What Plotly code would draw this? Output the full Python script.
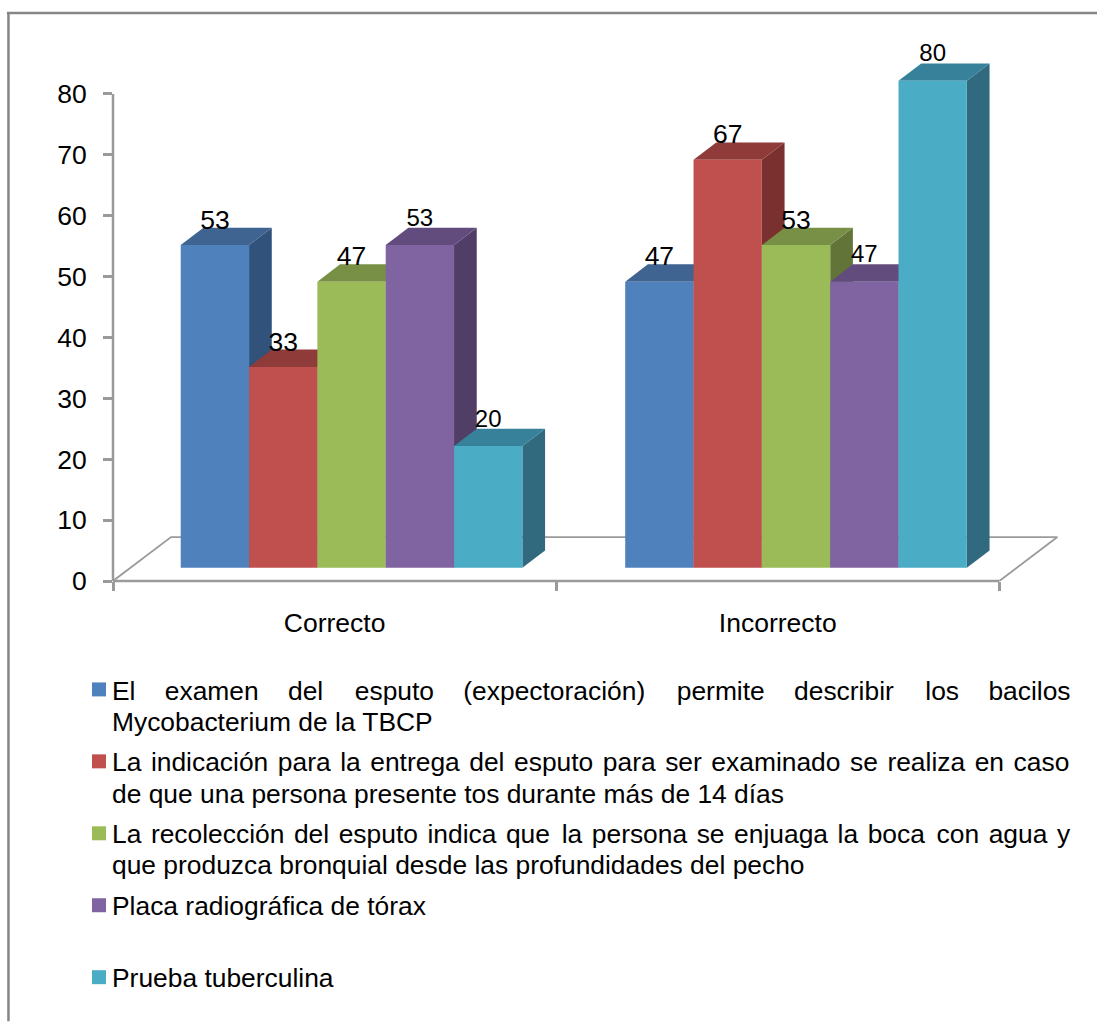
import plotly.graph_objects as go

# Survey results: share of answers per question, grouped by outcome
categories = ["Correcto", "Incorrecto"]
examen_esputo = [53, 47]
indicacion_esputo = [33, 67]
recoleccion_esputo = [47, 53]
placa_torax = [53, 47]
prueba_tuberculina = [20, 80]

series_names = [
    "El examen del esputo", "La indicación", "La recolección",
    "Placa radiográfica de tórax", "Prueba tuberculina",
]
series_values = [examen_esputo, indicacion_esputo, recoleccion_esputo, placa_torax, prueba_tuberculina]
front_colors = ["#4F81BD", "#C0504D", "#9BBB59", "#8064A2", "#4BACC6"]
top_colors = ["#3F6491", "#8F3B39", "#788F46", "#624C7E", "#37829A"]
side_colors = ["#31527A", "#7A302E", "#627438", "#503E66", "#316A7E"]
label_sizes = [26.5, 26.5, 26.5, 24, 24]
label_rises = [23, 23, 23, 25.5, 25.5]

NB = "\u00a0"
HAIR = "\u200a"


def spaced(text, gap, alt_gap=None, every=0):
    """Widen the word gaps of a line so it fills the legend column."""
    words = text.split(" ")
    out = words[0]
    for i, word in enumerate(words[1:], start=1):
        out += (alt_gap if every and i % every == 0 else gap) + word
    return out


legend_lines = [
    (692, "El" + NB * 4 + spaced("examen del esputo (expectoración) permite describir los bacilos",
                                 NB * 4, NB * 4 + HAIR, 2)),
    (723, "Mycobacterium de la TBCP"),
    (763, spaced("La indicación para la entrega del esputo para ser examinado se realiza en caso",
                 NB + HAIR)),
    (795, "de que una persona presente tos durante más de 14 días"),
    (835, spaced("La recolección del esputo indica que la persona se enjuaga la boca con agua y",
                 NB + HAIR, NB + HAIR * 2, 6)),
    (866, "que produzca bronquial desde las profundidades del pecho"),
    (907, "Placa radiográfica de tórax"),
    (979, "Prueba tuberculina"),
]
legend_swatch_rows = [690, 762, 834, 906, 978]

# Axis scale in page pixels. The ranges run past the last tick so the
# raised columns and the floor of the 3D box stay inside the plot area.
LEFT, BOTTOM = 113, 581.5
PX_X = 443
PX_Y = 487.5 / 80
X_MAX, Y_MAX = 2.2, 90
RIGHT = LEFT + X_MAX * PX_X
TOP = BOTTOM - Y_MAX * PX_Y

BAR_W = 68.3 / PX_X
DEPTH_X = 22.7 / PX_X
DEPTH_Y = 17.3 / PX_Y
BASE_Y = 13.2 / PX_Y
GROUP_LEFT = [(180.7 - LEFT) / PX_X, (625 - LEFT) / PX_X]
FLOOR_X = 58 / PX_X
FLOOR_Y = 44 / PX_Y
AXIS_GREY = "#9A9A9A"


def paper_x(px):
    return (px - LEFT) / (RIGHT - LEFT)


def paper_y(py):
    return (BOTTOM - py) / (BOTTOM - TOP)


def face(xs, ys, color, layer):
    """One filled side or top face of a column, given in axis units."""
    return go.Scatter(
        x=xs, y=ys, mode="lines", fill="toself", fillcolor=color, line=dict(width=0),
        hoverinfo="skip", showlegend=False, zorder=layer,
    )


fig = go.Figure()

# Floor of the 3D box
fig.add_trace(go.Scatter(
    x=[0, FLOOR_X, 2 + FLOOR_X, 2], y=[0, FLOOR_Y, FLOOR_Y, 0],
    mode="lines", line=dict(color=AXIS_GREY, width=1.8),
    hoverinfo="skip", showlegend=False, zorder=0,
))

# Columns are painted left to right so nearer faces cover earlier ones
layer = 1
for s, (name, values) in enumerate(zip(series_names, series_values)):
    lefts = [g + s * BAR_W for g in GROUP_LEFT]
    for x0, v in zip(lefts, values):
        x1 = x0 + BAR_W
        y1 = BASE_Y + v
        fig.add_trace(face([x1, x1 + DEPTH_X, x1 + DEPTH_X, x1, x1],
                           [BASE_Y, BASE_Y + DEPTH_Y, y1 + DEPTH_Y, y1, BASE_Y],
                           side_colors[s], layer))
        fig.add_trace(face([x0, x1, x1 + DEPTH_X, x0 + DEPTH_X, x0],
                           [y1, y1, y1 + DEPTH_Y, y1 + DEPTH_Y, y1],
                           top_colors[s], layer))
    fig.add_trace(go.Bar(
        name=name, x=lefts, y=values, base=BASE_Y, width=BAR_W, offset=0,
        marker=dict(color=front_colors[s], line=dict(width=0)),
        showlegend=False, zorder=layer + 1,
    ))
    layer += 2

# Value labels above each column
for s, values in enumerate(series_values):
    fig.add_trace(go.Scatter(
        x=[g + (s + 0.5) * BAR_W for g in GROUP_LEFT],
        y=[BASE_Y + v + label_rises[s] / PX_Y for v in values],
        text=[str(v) for v in values],
        mode="text", textposition="middle center",
        textfont=dict(family="Liberation Sans", size=label_sizes[s], color="#000000"),
        cliponaxis=False, hoverinfo="skip", showlegend=False, zorder=100,
    ))


def paper_line(x0, y0, x1, y1, color, width):
    return dict(type="line", xref="paper", yref="paper", x0=x0, y0=y0, x1=x1, y1=y1,
                layer="above", line=dict(color=color, width=width))


shapes = [
    # Frame around the chart
    paper_line(paper_x(8.5), paper_y(12), paper_x(8.5), paper_y(1022), "#868686", 2.5),
    paper_line(paper_x(7), paper_y(13), paper_x(1097), paper_y(13), "#868686", 2.5),
    # Axis lines stop at the last tick, short of the extended ranges
    paper_line(0, 0, 0, 80 / Y_MAX, AXIS_GREY, 2.5),
    paper_line(0, 0, 2 / X_MAX, 0, AXIS_GREY, 2.5),
]
for color, row in zip(front_colors, legend_swatch_rows):
    shapes.append(dict(
        type="rect", xref="paper", yref="paper", layer="above",
        x0=paper_x(92), x1=paper_x(106), y0=paper_y(row - 7), y1=paper_y(row + 7),
        fillcolor=color, line=dict(width=0),
    ))

annotations = [
    dict(text=line, xref="paper", yref="paper", x=paper_x(110.5), y=paper_y(row),
         xanchor="left", yanchor="middle", align="left", showarrow=False,
         font=dict(family="Liberation Sans", size=26.4, color="#000000"))
    for row, line in legend_lines
]

fig.update_layout(
    width=1097, height=1022, autosize=False,
    margin=dict(l=LEFT, r=1097 - RIGHT, t=TOP, b=1022 - BOTTOM, pad=0),
    paper_bgcolor="#FFFFFF", plot_bgcolor="#FFFFFF",
    barmode="overlay", showlegend=False,
    font=dict(family="Liberation Sans", size=26, color="#000000"),
    shapes=shapes, annotations=annotations,
    xaxis=dict(
        range=[0, X_MAX], tickmode="array", tickvals=[0.5, 1.5], ticktext=categories,
        ticks="", ticklabelstandoff=23, showgrid=False, zeroline=False, showline=False,
        minor=dict(tickmode="array", tickvals=[0, 1, 2], ticks="outside",
                   ticklen=9, tickwidth=2.5, tickcolor=AXIS_GREY, showgrid=False),
        tickfont=dict(size=26.5),
    ),
    yaxis=dict(
        range=[0, Y_MAX], tickmode="array", tickvals=list(range(0, 90, 10)),
        ticks="outside", ticklen=9, tickwidth=2.5, tickcolor=AXIS_GREY,
        showgrid=False, zeroline=False, showline=False,
        ticklabelstandoff=11, tickfont=dict(size=26.5),
    ),
)

fig.write_html("out.html")
